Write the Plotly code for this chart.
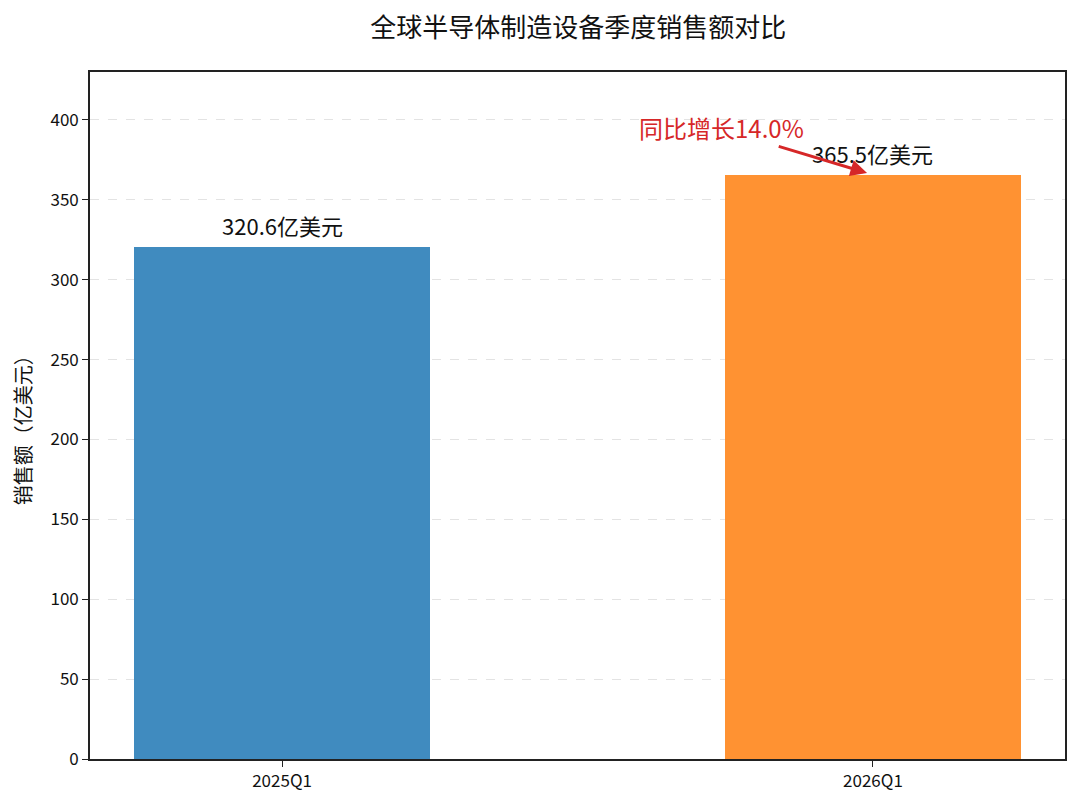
import plotly.graph_objects as go

categories = ["2025Q1", "2026Q1"]
values = [320.6, 365.5]
bar_colors = ["#408BBF", "#FF9232"]
value_labels = [f"{v}亿美元" for v in values]
growth_text = "同比增长14.0%"
y_ticks = [0, 50, 100, 150, 200, 250, 300, 350, 400]

FONT = "Noto Sans CJK SC"
xpos = list(range(len(categories)))

fig = go.Figure()
fig.add_trace(go.Bar(
    x=xpos, y=values, width=0.5,
    marker=dict(color=bar_colors, line=dict(width=0)),
    showlegend=False, hoverinfo="x+y",
))

for xi, v, lab in zip(xpos, values, value_labels):
    fig.add_annotation(
        x=xi, y=v, xref="x", yref="y", text=lab, showarrow=False,
        yanchor="bottom", yshift=4,
        font=dict(family=FONT, size=22, color="#111111"),
    )

# growth text
fig.add_annotation(
    x=xpos[1] - 0.257, y=values[1] + 29.5, xref="x", yref="y",
    text=growth_text, showarrow=False,
    font=dict(family=FONT, size=24, color="#D62728"),
)
# arrow
fig.add_annotation(
    x=xpos[1] - 0.01, y=values[1] + 1.3,
    ax=xpos[1] - 0.162, ay=values[1] + 18.2,
    xref="x", yref="y", axref="x", ayref="y",
    text="", showarrow=True,
    arrowhead=2, arrowsize=1.1, arrowwidth=3, arrowcolor="#D62728",
    standoff=0, startstandoff=0,
)

# y axis title
fig.add_annotation(
    x=-0.0697, y=0.486, xref="paper", yref="paper",
    text="销售额（亿美元）", textangle=-90, showarrow=False,
    xanchor="center", yanchor="middle",
    font=dict(family=FONT, size=20, color="#111111"),
)

fig.update_layout(
    width=1072, height=798,
    margin=dict(l=82, r=15, t=64, b=47),
    paper_bgcolor="white", plot_bgcolor="white",
    font=dict(family=FONT, color="#111111"),
    title=dict(text="全球半导体制造设备季度销售额对比", x=0.532, xanchor="center",
               y=0.975, yanchor="middle", font=dict(family=FONT, size=26, color="#111111")),
    bargap=0,
)
fig.update_xaxes(
    range=[-0.325, 1.325], tickmode="array", tickvals=xpos, ticktext=categories,
    showline=True, linecolor="#222222", linewidth=1.6, mirror=True,
    ticks="outside", ticklen=6, tickcolor="#222222", tickwidth=1.4,
    showgrid=False, zeroline=False, tickfont=dict(family=FONT, size=17),
)
fig.update_yaxes(
    range=[0, 430], tickmode="array", tickvals=y_ticks,
    showline=True, linecolor="#222222", linewidth=1.6, mirror=True,
    ticks="outside", ticklen=6, tickcolor="#222222", tickwidth=1.4,
    showgrid=True, gridcolor="#E3E3E3", griddash="dash", gridwidth=1,
    zeroline=False, tickfont=dict(family=FONT, size=17),
)

fig.write_html("out.html")
